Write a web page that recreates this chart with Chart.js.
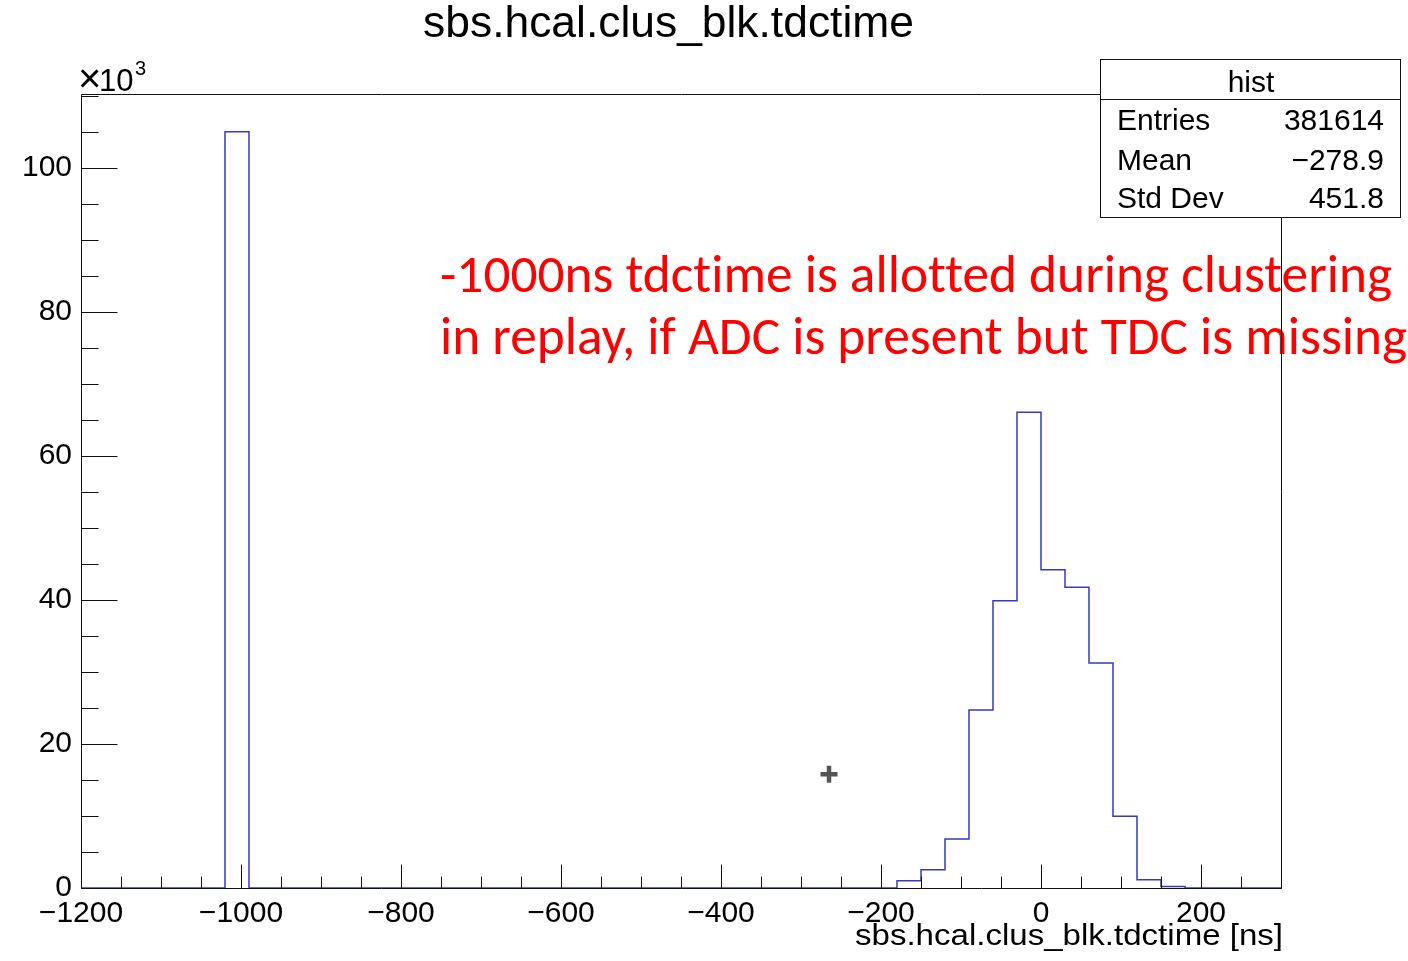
<!DOCTYPE html>
<html><head><meta charset="utf-8">
<script src="https://cdn.jsdelivr.net/npm/chart.js@4.4.1/dist/chart.umd.min.js"></script>
<style>html,body{margin:0;padding:0;background:#fff;} canvas{display:block;}</style>
</head><body>
<canvas id="c" width="1408" height="961"></canvas>
<script>
// ---------------- data ----------------
const chartTitle = 'sbs.hcal.clus_blk.tdctime';
const xAxisTitle = 'sbs.hcal.clus_blk.tdctime [ns]';
const xMin = -1200, xMax = 300, binWidth = 30;
const yMaxK = 110.25;
// bin contents in thousands (50 bins of 30 ns from -1200 to 300)
const countsK = [
  0, 0, 0, 0, 0, 0, 105.0,
  0, 0, 0, 0, 0, 0, 0, 0, 0, 0,
  0, 0, 0, 0, 0, 0, 0, 0, 0, 0,
  0, 0, 0, 0, 0, 0, 0,
  1.0, 2.55, 6.8, 24.7, 39.9, 66.05, 44.2, 41.75, 31.25, 9.95, 1.15, 0.22,
  0, 0, 0, 0
];
const xTickValues = [-1200, -1000, -800, -600, -400, -200, 0, 200];
const yTickValues = [0, 20, 40, 60, 80, 100];
const statsTitle = 'hist';
const statLabels = ['Entries', 'Mean', 'Std Dev'];
const statValues = ['381614', '\u2212278.9', '451.8'];
const markerX = [-265];
const markerY = [15.8];
const noteLines = [
  '-1000ns tdctime is allotted during clustering',
  'in replay, if ADC is present but TDC is missing'
];

// ---------------- build ----------------
const histPoints = countsK.map((c, i) => ({ x: xMin + i * binWidth, y: c }));
histPoints.push({ x: xMax, y: countsK[countsK.length - 1] });
const markerPoints = markerX.map((x, i) => ({ x: x, y: markerY[i] }));

const HELV = '"Liberation Sans", Arial, Helvetica, sans-serif';
const fmt = v => (v < 0 ? '\u2212' : '') + Math.abs(v);

function fitFont(ctx, text, width, family) {
  ctx.font = '100px ' + family;
  const w = ctx.measureText(text).width;
  return 100 * width / w;
}
function stretchText(ctx, text, x, y, size, family, width) {
  ctx.font = size + 'px ' + family;
  const w = ctx.measureText(text).width;
  ctx.save();
  ctx.translate(x, y);
  ctx.scale(width / w, 1);
  ctx.textAlign = 'left';
  ctx.fillText(text, 0, 0);
  ctx.restore();
}

const rootPlugin = {
  id: 'rootPlugin',
  afterDraw(chart) {
    const ctx = chart.ctx;
    const a = chart.chartArea;
    const xs = chart.scales.x, ys = chart.scales.y;
    ctx.save();

    // red annotation
    const noteFam = 'Carlito, Lato, "Open Sans", sans-serif';
    try { ctx.letterSpacing = '0.01px'; } catch (e) {}
    const ns = fitFont(ctx, noteLines[0], 952, noteFam);
    ctx.font = ns + 'px ' + noteFam;
    ctx.fillStyle = '#ff0000';
    ctx.textAlign = 'left';
    ctx.textBaseline = 'alphabetic';
    ctx.fillText(noteLines[0], 440, 292);
    ctx.fillText(noteLines[1], 440, 354);
    try { ctx.letterSpacing = '0px'; } catch (e) {}

    // frame
    ctx.strokeStyle = '#111';
    ctx.lineWidth = 1;
    const L = Math.round(a.left) + 0.5, R = Math.round(a.right) + 0.5;
    const T = Math.round(a.top) + 0.5, B = Math.round(a.bottom) + 0.5;
    ctx.beginPath();
    ctx.moveTo(L, T); ctx.lineTo(R, T); ctx.lineTo(R, B); ctx.lineTo(L, B); ctx.closePath();
    ctx.stroke();

    // x ticks (inside, pointing up)
    ctx.beginPath();
    for (let v = xMin; v <= xMax; v += 50) {
      const px = Math.round(xs.getPixelForValue(v)) + 0.5;
      const len = (v % 200 === 0) ? 24 : 12;
      ctx.moveTo(px, B); ctx.lineTo(px, B - len);
    }
    // y ticks (inside, pointing right)
    for (let v = 0; v <= yMaxK; v += 5) {
      const py = Math.round(ys.getPixelForValue(v)) + 0.5;
      const len = (v % 20 === 0) ? 36 : 17;
      ctx.moveTo(L, py); ctx.lineTo(L + len, py);
    }
    ctx.stroke();

    ctx.fillStyle = '#000';
    // title
    const ts = fitFont(ctx, chartTitle, 491, HELV);
    ctx.font = ts + 'px ' + HELV;
    ctx.textAlign = 'center';
    ctx.fillText(chartTitle, 668.5, 37);

    // x axis title
    stretchText(ctx, xAxisTitle, 855, 945, 29, HELV, 428);

    // x10^3
    ctx.textAlign = 'left';
    ctx.font = '40px ' + HELV;
    ctx.fillText('\u00d7', 78, 92);
    ctx.font = '31px ' + HELV;
    ctx.fillText('10', 99, 91);
    ctx.font = '20px ' + HELV;
    ctx.fillText('3', 135, 75);

    // stats box
    const bx = 1100.5, by = 59.5, bw = 300, bh = 158;
    ctx.fillStyle = '#fff';
    ctx.fillRect(bx, by, bw, bh);
    ctx.strokeStyle = '#111';
    ctx.strokeRect(bx, by, bw, bh);
    ctx.beginPath();
    ctx.moveTo(bx, 99.5); ctx.lineTo(bx + bw, 99.5);
    ctx.stroke();
    ctx.fillStyle = '#000';
    ctx.font = '30px ' + HELV;
    ctx.textAlign = 'center';
    ctx.fillText(statsTitle, 1251, 92);
    const rowY = [130, 170, 208];
    statLabels.forEach((lab, i) => {
      ctx.textAlign = 'left';
      ctx.fillText(lab, 1117, rowY[i]);
      ctx.textAlign = 'right';
      ctx.fillText(statValues[i], 1384, rowY[i]);
    });
    ctx.restore();
  }
};

new Chart(document.getElementById('c'), {
  type: 'line',
  data: {
    datasets: [
      {
        label: 'hist',
        data: histPoints,
        stepped: true,
        borderColor: '#3a3ab8',
        borderWidth: 1.5,
        pointRadius: 0,
        fill: false
      },
      {
        label: 'marker',
        data: markerPoints,
        showLine: false,
        pointStyle: 'cross',
        pointRadius: 8.5,
        borderColor: '#555',
        pointBorderWidth: 4.5,
        borderWidth: 4.5
      },
      {
        label: 'marker-inner',
        data: markerPoints,
        showLine: false,
        pointStyle: 'cross',
        pointRadius: 7,
        borderColor: '#ddd',
        pointBorderWidth: 1.5,
        borderWidth: 1.5
      }
    ]
  },
  options: {
    responsive: false,
    animation: false,
    events: [],
    layout: { padding: { top: 94, right: 127, left: 0, bottom: 0 } },
    plugins: { legend: { display: false }, tooltip: { enabled: false }, title: { display: false } },
    scales: {
      x: {
        type: 'linear',
        min: xMin, max: xMax,
        grid: { display: false, drawTicks: false },
        border: { display: false },
        afterFit(s) { s.height = 73; },
        afterBuildTicks(s) { s.ticks = xTickValues.map(v => ({ value: v })); },
        ticks: {
          autoSkip: false, maxRotation: 0, minRotation: 0,
          padding: 8,
          color: '#000',
          font: { family: HELV, size: 30 },
          callback: v => fmt(v)
        }
      },
      y: {
        type: 'linear',
        min: 0, max: yMaxK,
        grid: { display: false, drawTicks: false },
        border: { display: false },
        afterFit(s) { s.width = 81; },
        afterBuildTicks(s) { s.ticks = yTickValues.map(v => ({ value: v })); },
        ticks: {
          autoSkip: false,
          padding: 9,
          color: '#000',
          font: { family: HELV, size: 30 },
          callback: v => fmt(v)
        }
      }
    }
  },
  plugins: [rootPlugin]
});
</script>
</body></html>
